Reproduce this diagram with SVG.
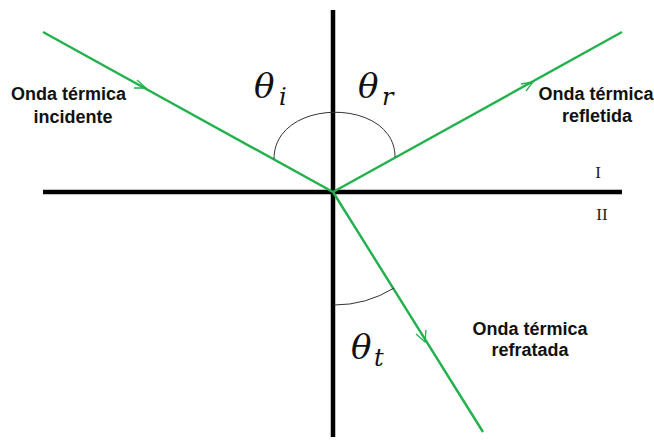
<svg xmlns="http://www.w3.org/2000/svg" width="654" height="441" viewBox="0 0 654 441">
<style>
.axis{stroke:#000;stroke-width:4.5;fill:none}
.ray{stroke:#22b14c;stroke-width:2.4;fill:none}
.arr{stroke:#22b14c;stroke-width:1.3;fill:none}
.arc{stroke:#333;stroke-width:1;fill:none}
.lbl{font-family:"Liberation Sans",Arial,sans-serif;font-weight:bold;font-size:18px;fill:#111;text-anchor:middle}
.th{font-family:"DejaVu Serif","Liberation Serif",serif;font-style:italic;font-size:34px;fill:#111}
.sub{font-family:"DejaVu Serif","Liberation Serif",serif;font-style:italic;font-size:24px;fill:#111}
.rom{font-family:"Liberation Serif","DejaVu Serif",serif;font-size:17px;fill:#222}
</style>
<rect width="654" height="441" fill="#fff"/>
<g id="connectors">
<line class="axis" x1="333" y1="10" x2="333" y2="437"/>
<line class="axis" x1="43" y1="192" x2="622" y2="192"/>
<line class="ray" x1="43" y1="32" x2="333" y2="192"/>
<line class="ray" x1="333" y1="192" x2="622" y2="32"/>
<line class="ray" x1="333" y1="192" x2="483" y2="432"/>
<path class="arr" d="M137,80 L146,88 L134,88"/>
<path class="arr" d="M521,84 L533,82 L526,91"/>
<path class="arr" d="M426,330 L425,342 L416,334"/>
<path class="arc" d="M274,159 C274,97 395,97 395,157"/>
<path class="arc" d="M334,305 A113,113 0 0 0 394,288"/>
</g>
<g id="incidente">
<text class="lbl" x="68.5" y="100">Onda térmica</text>
<text class="lbl" x="73" y="123">incidente</text>
</g>
<g id="refletida">
<text class="lbl" x="596" y="100">Onda térmica</text>
<text class="lbl" x="597" y="122">refletida</text>
</g>
<g id="refratada">
<text class="lbl" x="530" y="335">Onda térmica</text>
<text class="lbl" x="530" y="356">refratada</text>
</g>
<g id="theta-i"><text class="th" x="254" y="98">θ</text><text class="sub" x="279" y="105">i</text></g>
<g id="theta-r"><text class="th" x="358" y="98">θ</text><text class="sub" x="382" y="105">r</text></g>
<g id="theta-t"><text class="th" x="351" y="359">θ</text><text class="sub" x="374" y="366">t</text></g>
<g id="medium-I"><text class="rom" x="598" y="178" text-anchor="middle">I</text></g>
<g id="medium-II"><text class="rom" x="602" y="220" text-anchor="middle">II</text></g>
</svg>
